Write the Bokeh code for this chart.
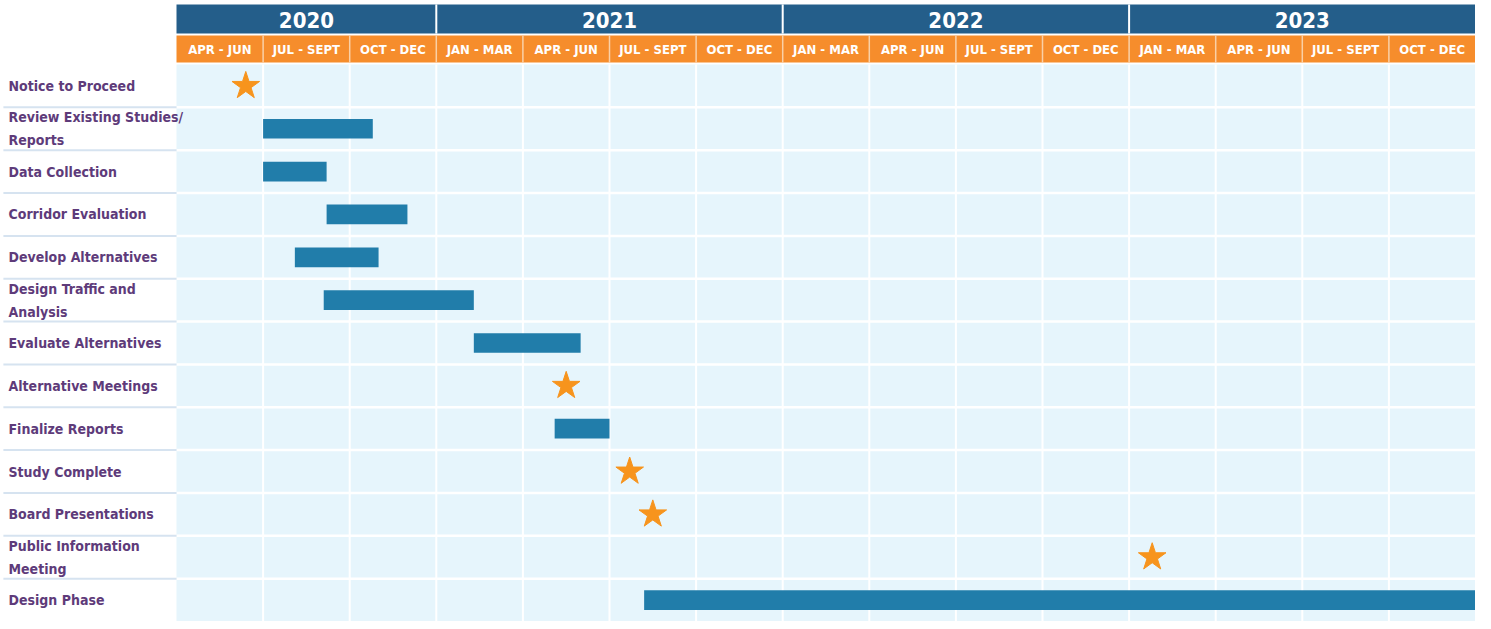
from bokeh.plotting import figure
from bokeh.models import Range1d, ColumnDataSource
from bokeh.core.properties import value
from bokeh.embed import file_html
from bokeh.resources import INLINE

# ---------------- data ----------------
years = ["2020", "2021", "2022", "2023"]
year_quarters = [3, 4, 4, 4]
quarters = ["APR - JUN", "JUL - SEPT", "OCT - DEC",
            "JAN - MAR", "APR - JUN", "JUL - SEPT", "OCT - DEC",
            "JAN - MAR", "APR - JUN", "JUL - SEPT", "OCT - DEC",
            "JAN - MAR", "APR - JUN", "JUL - SEPT", "OCT - DEC"]
tasks = ["Notice to Proceed", "Review Existing Studies/\nReports", "Data Collection",
         "Corridor Evaluation", "Develop Alternatives", "Design Traffic and\nAnalysis",
         "Evaluate Alternatives", "Alternative Meetings", "Finalize Reports",
         "Study Complete", "Board Presentations", "Public Information\nMeeting",
         "Design Phase"]
# months since April 2020
bar_task = [1, 2, 3, 4, 5, 6, 8, 12]
bar_start = [3.0, 3.0, 5.2, 4.1, 5.1, 10.3, 13.1, 16.2]
bar_end = [6.8, 5.2, 8.0, 7.0, 10.3, 14.0, 15.0, 45.0]
mile_task = [0, 7, 9, 10, 11]
mile_at = [2.4, 13.5, 15.7, 16.5, 33.8]

# ---------------- style ----------------
C_YEAR = "#245E8A"
C_QTR = "#F68D2C"
C_BAR = "#217DAA"
C_BG = "#E6F5FC"
C_LABEL = "#5E3B7A"
C_STAR = "#F7941D"
C_SEP = "#D6E3F0"
FONT = value("'DejaVu Sans Condensed', 'Liberation Sans Narrow', Lato")

n_rows = len(tasks)
total = sum(year_quarters) * 3
W, H = 1475, 621
chart_left = 176
row_top = 64
row_px = (H - row_top) / n_rows
px_per_month = (W - chart_left) / total
x0 = -chart_left / px_per_month
y_top = -row_top / row_px


def ry(py):
    return (py - row_top) / row_px


p = figure(width=W, height=H, output_backend="svg", toolbar_location=None,
           x_range=Range1d(x0, total), y_range=Range1d(n_rows, y_top),
           x_axis_location=None, y_axis_location=None, min_border=0)
p.outline_line_color = None
p.xgrid.visible = False
p.ygrid.visible = False
p.background_fill_color = "white"
p.border_fill_color = "white"

# chart background
p.quad(left=[0], right=[total], bottom=[n_rows], top=[0], fill_color=C_BG, line_color=None)

# grid lines
qb = [3 * i for i in range(1, len(quarters))]
p.segment(x0=qb, x1=qb, y0=[0] * len(qb), y1=[n_rows] * len(qb), line_color="white", line_width=2)
rb = list(range(1, n_rows))
p.segment(x0=[0] * len(rb), x1=[total] * len(rb), y0=rb, y1=rb, line_color="white", line_width=2.5)
# left separators
p.segment(x0=[x0 + 0.1] * len(rb), x1=[0] * len(rb), y0=rb, y1=rb, line_color=C_SEP, line_width=2)

# header bands
yb_top, yb_bot = ry(4), ry(33)
qb_top, qb_bot = ry(35), ry(62)
ystarts, yends = [], []
acc = 0
for n in year_quarters:
    ystarts.append(acc)
    acc += n * 3
    yends.append(acc)
p.quad(left=ystarts, right=yends, top=[yb_top] * 4, bottom=[yb_bot] * 4,
       fill_color=C_YEAR, line_color=None)
p.segment(x0=ystarts[1:], x1=ystarts[1:], y0=[yb_top] * 3, y1=[yb_bot] * 3,
          line_color="white", line_width=2)
p.text(x=[(a + b) / 2 for a, b in zip(ystarts, yends)], y=[ry(19)] * 4,
       text=years, text_color="white", text_font=FONT, text_font_style="bold",
       text_font_size="22px", text_align="center", text_baseline="middle")

qs = [3 * i for i in range(len(quarters))]
p.quad(left=qs, right=[q + 3 for q in qs], top=[qb_top] * len(qs), bottom=[qb_bot] * len(qs),
       fill_color=C_QTR, line_color=None)
p.segment(x0=qs[1:], x1=qs[1:], y0=[qb_top] * (len(qs) - 1), y1=[qb_bot] * (len(qs) - 1),
          line_color="#FAD0A6", line_width=1.5)
p.text(x=[q + 1.5 for q in qs], y=[ry(49)] * len(qs), text=quarters,
       text_color="white", text_font=FONT, text_font_style="bold", text_font_size="13px",
       text_align="center", text_baseline="middle")

# task labels
p.text(x=[x0 + 8 / px_per_month] * n_rows, y=[i + 0.5 for i in range(n_rows)], text=tasks,
       text_color=C_LABEL, text_font=FONT, text_font_style="bold", text_font_size="14px",
       text_align="left", text_baseline="middle", text_line_height=1.45)

# bars
src = ColumnDataSource(dict(left=bar_start, right=bar_end,
                            top=[t + 0.5 - 0.23 for t in bar_task],
                            bottom=[t + 0.5 + 0.23 for t in bar_task]))
p.quad(left="left", right="right", top="top", bottom="bottom", source=src,
       fill_color=C_BAR, line_color=None)

# milestones
p.scatter(x=mile_at, y=[t + 0.5 for t in mile_task], marker="star", size=29,
          fill_color=C_STAR, line_color=C_STAR)

open("out.html", "w").write(file_html(p, INLINE))
